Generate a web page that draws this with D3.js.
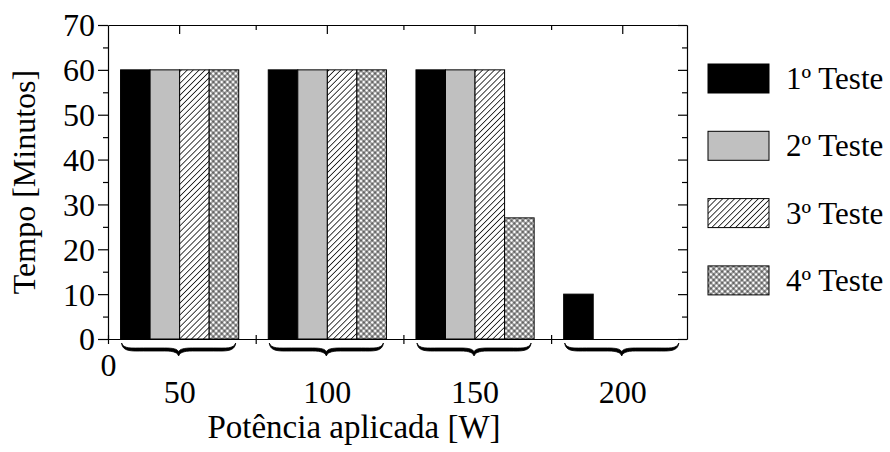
<!DOCTYPE html>
<html>
<head>
<meta charset="utf-8">
<script src="https://cdn.jsdelivr.net/npm/d3@7"></script>
</head>
<body style="margin:0">
<svg id="chart" width="890" height="452" font-family="Liberation Serif"></svg>
<script>
// data
const categories = ["50", "100", "150", "200"];
const series = ["1º Teste", "2º Teste", "3º Teste", "4º Teste"];
const teste1 = [60, 60, 60, 10];
const teste2 = [60, 60, 60, 0];
const teste3 = [60, 60, 60, 0];
const teste4 = [60, 60, 27, 0];
const yTickValues = [0, 10, 20, 30, 40, 50, 60, 70];
const yMinorValues = [5, 15, 25, 35, 45, 55, 65];

const values = [teste1, teste2, teste3, teste4];
const fills = ["#000", "#c0c0c0", "url(#hatch)", "url(#cross)"];
const serifFont = 'Liberation Serif';

const plot = { left: 108, right: 687, top: 25, bottom: 339 };

const svg = d3.select('#chart');

// patterns for the 3rd and 4th test
const defs = svg.append('defs');
const hatch = defs.append('pattern')
    .attr('id', 'hatch')
    .attr('patternUnits', 'userSpaceOnUse')
    .attr('width', 4.2).attr('height', 4.2)
    .attr('patternTransform', 'rotate(45)');
hatch.append('rect').attr('width', 4.2).attr('height', 4.2).attr('fill', '#fff');
hatch.append('line').attr('x1', 2.1).attr('x2', 2.1).attr('y1', 0).attr('y2', 4.2)
    .attr('stroke', '#000').attr('stroke-width', 0.75);

const cross = defs.append('pattern')
    .attr('id', 'cross')
    .attr('patternUnits', 'userSpaceOnUse')
    .attr('width', 4).attr('height', 4)
    .attr('patternTransform', 'rotate(45)');
cross.append('rect').attr('width', 4).attr('height', 4).attr('fill', '#fff');
cross.append('line').attr('x1', 2).attr('x2', 2).attr('y1', 0).attr('y2', 4)
    .attr('stroke', '#000').attr('stroke-width', 0.75);
cross.append('line').attr('y1', 2).attr('y2', 2).attr('x1', 0).attr('x2', 4)
    .attr('stroke', '#000').attr('stroke-width', 0.75);

// scales
const x = d3.scaleLinear().domain([0, 3.92]).range([plot.left, plot.right]);
const xGroup = d3.scaleBand().domain(categories).range([x(-0.015), x(3.985)]);
const xSeries = d3.scaleBand().domain(series).range([0, xGroup.bandwidth()]).paddingOuter(0.5);
const y = d3.scaleLinear().domain([0, 70]).range([plot.bottom, plot.top]);

// bars
const groups = svg.append('g').selectAll('g')
    .data(categories)
    .join('g')
    .attr('transform', d => `translate(${xGroup(d)},0)`);

groups.selectAll('rect')
    .data((c, i) => series.map((s, j) => ({ s: s, j: j, v: values[j][i] })))
    .join('rect')
    .attr('x', d => xSeries(d.s))
    .attr('width', xSeries.bandwidth())
    .attr('y', d => y(d.v))
    .attr('height', d => y(0) - y(d.v))
    .attr('fill', d => fills[d.j])
    .attr('stroke', '#000')
    .attr('stroke-width', 1);

// braces under each group (filled shape, thicker in the middle of each arm)
function brace(x1, x2, y0) {
    const m = (x1 + x2) / 2, yb = y0 + 8, tip = y0 + 13;
    const outer = `M${x1},${y0} C${x1 + 1},${yb + 1} ${x1 + 10},${yb} ${x1 + 22},${yb}` +
        ` L${m - 14},${yb} C${m - 4},${yb} ${m - 1},${yb + 2} ${m},${tip}` +
        ` C${m + 1},${yb + 2} ${m + 4},${yb} ${m + 14},${yb} L${x2 - 22},${yb}` +
        ` C${x2 - 10},${yb} ${x2 - 1},${yb + 1} ${x2},${y0}`;
    const inner = ` C${x2 - 2},${yb - 2} ${x2 - 10},${yb - 3} ${x2 - 22},${yb - 3}` +
        ` L${m + 14},${yb - 3} C${m + 5},${yb - 3} ${m + 1},${yb - 2} ${m},${yb + 1}` +
        ` C${m - 1},${yb - 2} ${m - 5},${yb - 3} ${m - 14},${yb - 3} L${x1 + 22},${yb - 3}` +
        ` C${x1 + 10},${yb - 3} ${x1 + 2},${yb - 2} ${x1},${y0} Z`;
    return outer + inner;
}
svg.append('g').selectAll('path')
    .data(categories)
    .join('path')
    .attr('d', d => brace(xGroup(d) + xSeries(series[0]) + 1,
        xGroup(d) + xSeries(series[3]) + xSeries.bandwidth() - 3, plot.bottom + 4))
    .attr('fill', '#000')
    .attr('stroke', '#000')
    .attr('stroke-width', 0.8)
    .attr('stroke-linejoin', 'round');

// left axis
const yAxis = svg.append('g')
    .attr('transform', `translate(${plot.left},0)`)
    .call(d3.axisLeft(y).tickValues(yTickValues).tickSize(10).tickSizeOuter(0).tickPadding(3));
svg.append('g')
    .attr('transform', `translate(${plot.left},0)`)
    .call(d3.axisLeft(y).tickValues(yMinorValues).tickSize(5).tickFormat(''))
    .call(g => g.select('.domain').remove());

// right axis, ticks inward
svg.append('g')
    .attr('transform', `translate(${plot.right},0)`)
    .call(d3.axisLeft(y).tickValues(yTickValues).tickSize(9).tickSizeOuter(0).tickFormat(''));
svg.append('g')
    .attr('transform', `translate(${plot.right},0)`)
    .call(d3.axisLeft(y).tickValues(yMinorValues).tickSize(5).tickFormat(''))
    .call(g => g.select('.domain').remove());

// top axis, ticks inward: group centres (major) and boundaries (minor)
svg.append('g')
    .attr('transform', `translate(0,${plot.top})`)
    .call(d3.axisBottom(x).tickValues([]).tickSizeOuter(0));
svg.append('g')
    .attr('transform', `translate(0,${plot.top})`)
    .call(d3.axisBottom(xGroup).tickSize(9).tickFormat(''))
    .call(g => g.select('.domain').remove());
svg.append('g')
    .attr('transform', `translate(0,${plot.top})`)
    .call(d3.axisBottom(x).tickValues([1, 2, 3]).tickSize(5).tickFormat(''))
    .call(g => g.select('.domain').remove());

// bottom axis, ticks crossing the line
const xAxis = svg.append('g')
    .attr('transform', `translate(0,${plot.bottom})`)
    .call(d3.axisBottom(x).tickValues([0, 1, 2, 3]).tickSize(5).tickSizeOuter(0).tickPadding(9)
        .tickFormat(d => d === 0 ? '0' : ''));
xAxis.selectAll('.tick line').attr('y1', -4);

// group labels
svg.append('g')
    .attr('transform', `translate(0,${plot.bottom})`)
    .call(d3.axisBottom(xGroup).tickSize(0).tickPadding(41))
    .call(g => g.select('.domain').remove());

svg.selectAll('g').attr('font-family', serifFont).attr('font-size', 32);
svg.selectAll('.domain, .tick line').attr('stroke', '#000').attr('stroke-width', 1.2);
svg.selectAll('.tick text')
    .attr('fill', '#000')
    .attr('font-family', serifFont)
    .style('font-family', serifFont)
    .style('font-size', '32px');
yAxis.selectAll('text').attr('dy', '0.34em');

// axis titles
svg.append('text')
    .attr('x', 354)
    .attr('y', 438)
    .attr('text-anchor', 'middle')
    .attr('font-family', serifFont)
    .style('font-family', serifFont)
    .style('font-size', '33px')
    .text('Potência aplicada [W]');

svg.append('text')
    .attr('transform', `translate(35,${(plot.top + plot.bottom) / 2}) rotate(-90)`)
    .attr('text-anchor', 'middle')
    .attr('font-family', serifFont)
    .style('font-family', serifFont)
    .style('font-size', '32px')
    .text('Tempo [Minutos]');

// legend
const legend = svg.append('g').selectAll('g')
    .data(series)
    .join('g')
    .attr('transform', (d, i) => `translate(708,${64 + i * 67.3})`);

legend.append('rect')
    .attr('width', 61)
    .attr('height', 29)
    .attr('fill', (d, i) => fills[i])
    .attr('stroke', '#000')
    .attr('stroke-width', 1);

legend.append('text')
    .attr('x', 78)
    .attr('y', 25)
    .attr('font-family', serifFont)
    .style('font-family', serifFont)
    .style('font-size', '31px')
    .text(d => d);
</script>
</body>
</html>
